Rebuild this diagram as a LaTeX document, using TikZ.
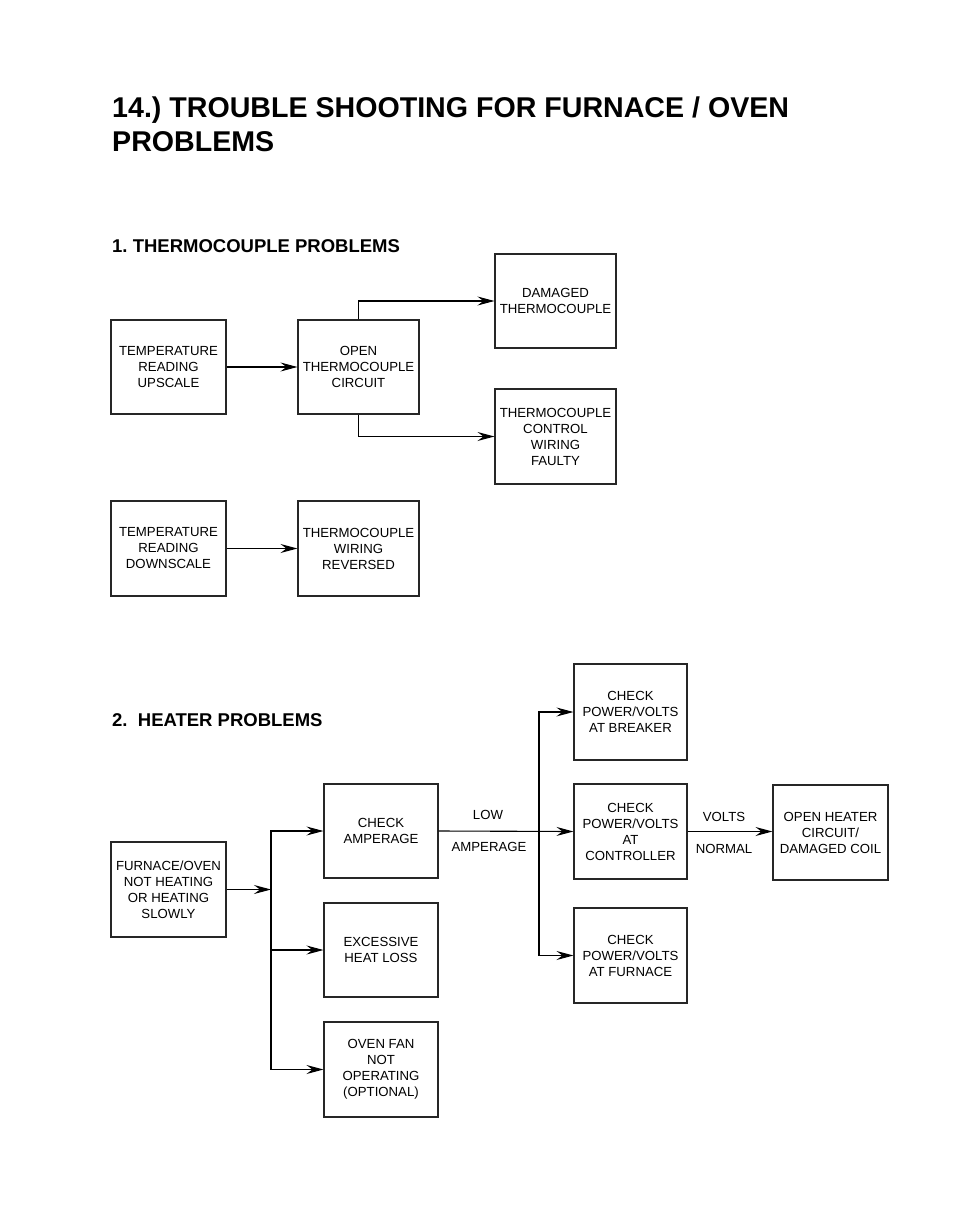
\documentclass[tikz,border=0pt]{standalone}
\usepackage{fontspec}
\setmainfont{Liberation Sans}
\usetikzlibrary{arrows.meta}
\frenchspacing
\begin{document}
\begin{tikzpicture}[x=1pt,y=-1pt,
  box/.style={draw=black!85,line width=1.1pt,align=center,inner sep=2pt,
    font=\fontsize{13.2}{16}\selectfont},
  lbl/.style={font=\fontsize{13.2}{16}\selectfont,inner sep=0pt},
  arr/.style={line width=1.1pt,-{Stealth[length=17pt,width=9pt,inset=6pt]}},
  ln/.style={line width=1.1pt},
  ttl/.style={anchor=base west,inner sep=0pt,font=\fontsize{28.6}{34}\selectfont\bfseries},
  hdr/.style={anchor=base west,inner sep=0pt,font=\fontsize{18.5}{22}\selectfont\bfseries}]
\useasboundingbox (0,0) rectangle (954,1230);
% title
\node[ttl] (t1) at (112,118) {14.) TROUBLE SHOOTING FOR FURNACE / OVEN};
\node[ttl] (t2) at (112,152) {PROBLEMS};
% section 1
\node[hdr] (h1) at (112,253) {1. THERMOCOUPLE PROBLEMS};
\node[box,minimum width=115,minimum height=94] (up) at (168.5,367) {TEMPERATURE\\READING\\UPSCALE};
\node[box,minimum width=121,minimum height=94] (open) at (358.5,367) {OPEN\\THERMOCOUPLE\\CIRCUIT};
\node[box,minimum width=121,minimum height=94] (dam) at (555.5,301) {DAMAGED\\THERMOCOUPLE};
\node[box,minimum width=121,minimum height=95] (tcw) at (555.5,436.5) {THERMOCOUPLE\\CONTROL\\WIRING\\FAULTY};
\node[box,minimum width=115,minimum height=95] (down) at (168.5,548.5) {TEMPERATURE\\READING\\DOWNSCALE};
\node[box,minimum width=121,minimum height=95] (rev) at (358.5,548.5) {THERMOCOUPLE\\WIRING\\REVERSED};
\draw[arr] (up.east) -- (open.west);
\draw[arr] (open.north) |- (dam.west);
\draw[arr] (open.south) |- (tcw.west);
\draw[arr] (down.east) -- (rev.west);
% section 2
\node[hdr] (h2) at (112,726) {2.\ \ HEATER PROBLEMS};
\node[box,minimum width=115,minimum height=95] (furn) at (168.5,889.5) {FURNACE/OVEN\\NOT HEATING\\OR HEATING\\SLOWLY};
\node[box,minimum width=114,minimum height=94] (amp) at (381,831) {CHECK\\AMPERAGE};
\node[box,minimum width=114,minimum height=94] (loss) at (381,950) {EXCESSIVE\\HEAT LOSS};
\node[box,minimum width=114,minimum height=95] (fan) at (381,1069.5) {OVEN FAN\\NOT\\OPERATING\\(OPTIONAL)};
\node[box,minimum width=113,minimum height=96] (brk) at (630.5,712) {CHECK\\POWER/VOLTS\\AT BREAKER};
\node[box,minimum width=113,minimum height=95] (ctrl) at (630.5,831.5) {CHECK\\POWER/VOLTS\\AT\\CONTROLLER};
\node[box,minimum width=113,minimum height=95] (fur) at (630.5,955.5) {CHECK\\POWER/VOLTS\\AT FURNACE};
\node[box,minimum width=115,minimum height=95] (oh) at (830.5,832.5) {OPEN HEATER\\CIRCUIT/\\DAMAGED COIL};
\coordinate (j) at (271,889.5);
\coordinate (k) at (539,831);
\draw[arr] (furn.east) -- (j);
\draw[arr] (j) |- (amp.west);
\draw[arr] (j) |- (loss.west);
\draw[arr] (j) |- (fan.west);
\draw[arr] (amp.east) -- (ctrl.west);
\draw[arr] (k) |- (brk.west);
\draw[arr] (k) |- (fur.west);
\draw[arr] (ctrl.east) -- (ctrl.east -| oh.west);
\node[lbl] (low) at (488,815) {LOW};
\node[lbl] (ampl) at (489,847) {AMPERAGE};
\node[lbl] (volts) at (724,817) {VOLTS};
\node[lbl] (norm) at (724,849) {NORMAL};
\end{tikzpicture}
\end{document}
